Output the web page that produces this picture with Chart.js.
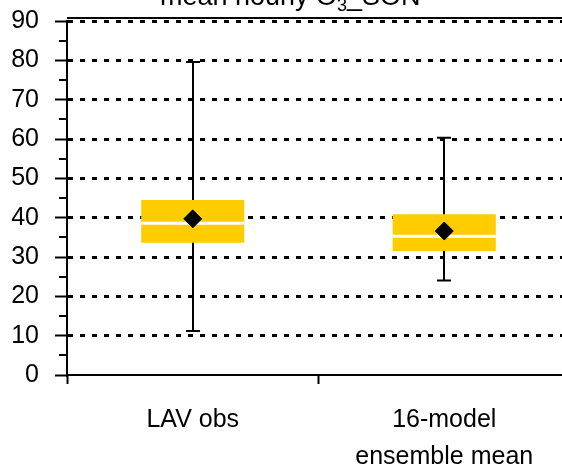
<!DOCTYPE html>
<html>
<head>
<meta charset="utf-8">
<script src="https://cdn.jsdelivr.net/npm/chart.js@4.4.1/dist/chart.umd.min.js"></script>
<style>
  html, body { margin: 0; padding: 0; background: #fff; overflow: hidden; }
  #wrap { width: 562px; height: 471px; overflow: hidden; }
</style>
</head>
<body>
<div id="wrap"><canvas id="grafico" width="580" height="471"></canvas></div>
<script>
// datos
const categorias   = ['LAV obs', ['16-model', 'ensemble mean']];
const bigoteBajo   = [11.2, 24.0];
const cajaBaja     = [33.6, 31.5];
const medianas     = [38.6, 35.3];
const cajaAlta     = [44.5, 40.9];
const bigoteAlto   = [79.6, 60.3];
const medias       = [39.7, 36.6];
const yMin = 0, yMax = 90, yPaso = 10;

const FUENTE = 'Arial, "Liberation Sans", sans-serif';

// bigotes, medianas, ticks menores y titulo
const extrasCaja = {
  id: 'extrasCaja',
  beforeDatasetsDraw(chart) {
    const ctx = chart.ctx, x = chart.scales.x, y = chart.scales.y;
    ctx.save();
    ctx.strokeStyle = '#000';
    ctx.lineWidth = 2;
    categorias.forEach((_, i) => {
      const cx = Math.round(x.getPixelForValue(i));
      const yb = y.getPixelForValue(bigoteBajo[i]);
      const ya = y.getPixelForValue(bigoteAlto[i]);
      ctx.beginPath();
      ctx.moveTo(cx, yb); ctx.lineTo(cx, ya);
      ctx.moveTo(cx - 7, yb); ctx.lineTo(cx + 7, yb);
      ctx.moveTo(cx - 7, ya); ctx.lineTo(cx + 7, ya);
      ctx.stroke();
    });
    ctx.restore();
  },
  afterDatasetDraw(chart, args) {
    if (args.index !== 0) return;
    const ctx = chart.ctx, y = chart.scales.y;
    ctx.save();
    ctx.strokeStyle = '#fff';
    ctx.lineWidth = 3;
    args.meta.data.forEach((bar, i) => {
      const ym = y.getPixelForValue(medianas[i]);
      ctx.beginPath();
      ctx.moveTo(bar.x - bar.width / 2, ym);
      ctx.lineTo(bar.x + bar.width / 2, ym);
      ctx.stroke();
    });
    ctx.restore();
  },
  afterDraw(chart) {
    const ctx = chart.ctx, y = chart.scales.y, area = chart.chartArea;
    ctx.save();
    // ticks menores del eje y
    ctx.strokeStyle = '#000';
    ctx.lineWidth = 2;
    for (let v = yMin + yPaso / 2; v < yMax; v += yPaso) {
      const py = Math.round(y.getPixelForValue(v));
      ctx.beginPath();
      ctx.moveTo(area.left - 8, py); ctx.lineTo(area.left, py);
      ctx.stroke();
    }
    // linea superior
    ctx.beginPath();
    ctx.moveTo(area.left, area.top - 3); ctx.lineTo(area.right, area.top - 3);
    ctx.stroke();
    // titulo (cortado arriba)
    ctx.fillStyle = '#000';
    ctx.textBaseline = 'alphabetic';
    const t1 = 'mean hourly O', t3 = '_SON';
    ctx.font = '27px ' + FUENTE;
    const w1 = ctx.measureText(t1).width, w3 = ctx.measureText(t3).width;
    ctx.font = '18px ' + FUENTE;
    const w2 = ctx.measureText('3').width;
    const x0 = 160;
    ctx.font = '27px ' + FUENTE;
    ctx.fillText(t1, x0, 5);
    ctx.font = '18px ' + FUENTE;
    ctx.fillText('3', x0 + w1, 11);
    ctx.font = '27px ' + FUENTE;
    ctx.fillText(t3, x0 + w1 + w2, 5);
    ctx.restore();
  }
};

new Chart(document.getElementById('grafico').getContext('2d'), {
  type: 'bar',
  data: {
    labels: categorias,
    datasets: [
      {
        label: 'caja',
        data: cajaBaja.map((v, i) => [v, cajaAlta[i]]),
        backgroundColor: '#FFCC00',
        borderWidth: 0,
        barPercentage: 0.41,
        categoryPercentage: 1,
        order: 2
      },
      {
        type: 'line',
        label: 'media',
        data: medias,
        showLine: false,
        pointStyle: 'rectRot',
        pointRadius: 9,
        backgroundColor: '#000',
        borderColor: '#000',
        borderWidth: 1,
        order: 1
      }
    ]
  },
  options: {
    responsive: false,
    animation: false,
    layout: { padding: { top: 21, right: 0, left: 10, bottom: 0 } },
    plugins: { legend: { display: false }, tooltip: { enabled: false } },
    scales: {
      x: {
        offset: true,
        afterFit: s => { s.height = 96; s.paddingLeft = 0; s.paddingRight = 0; },
        grid: { offset: true, drawOnChartArea: false, color: '#000', tickLength: 9, tickWidth: 2 },
        border: { color: '#000', width: 2, z: 1 },
        ticks: { color: '#000', padding: 17, maxRotation: 0, font: { family: FUENTE, size: 25, lineHeight: 1.5 } }
      },
      y: {
        min: yMin, max: yMax,
        afterFit: s => { s.width = 57; s.paddingTop = 0; s.paddingBottom = 0; },
        grid: {
          color: c => (c.tick && c.tick.value === 0) ? 'rgba(0,0,0,0)' : '#000',
          lineWidth: 3,
          tickColor: '#000', tickWidth: 2, tickLength: 12, tickBorderDash: []
        },
        border: { color: '#000', width: 2, dash: [5, 7] },
        ticks: { stepSize: yPaso, color: '#000', padding: 16, font: { family: FUENTE, size: 25 } }
      }
    }
  },
  plugins: [extrasCaja]
});
</script>
</body>
</html>
